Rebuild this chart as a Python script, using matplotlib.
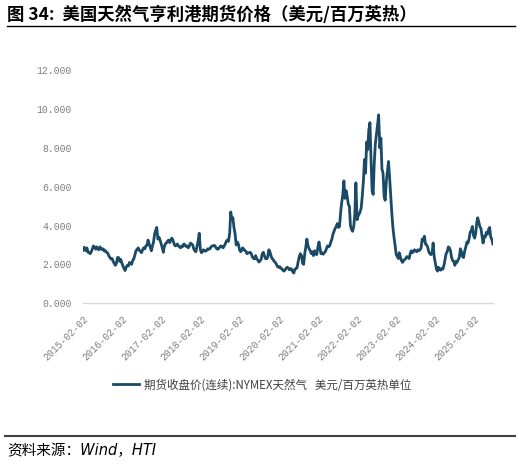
import matplotlib
matplotlib.use("Agg")
import matplotlib.pyplot as plt
import pandas as pd

plt.rcParams['font.family'] = ['Noto Sans CJK SC', 'DejaVu Sans']

# readings on the 1st, 11th and 21st of each month, USD/MMBtu
v2015 = [2.72, 2.88, 2.80, 2.70, 2.85, 2.62, 2.60, 2.55, 2.65, 2.80, 2.95, 2.88,
         2.78, 2.90, 2.80, 2.75, 2.90, 2.82, 2.75, 2.80, 2.68, 2.70, 2.62, 2.58,
         2.45, 2.35, 2.28, 2.30, 2.15, 2.05, 1.95, 2.05, 2.35]
v2016 = [2.35, 2.15, 2.25, 2.05, 1.90, 1.78, 1.68, 1.85, 1.95, 1.92, 2.10, 2.05,
         2.00, 2.20, 2.28, 2.50, 2.70, 2.78, 2.85, 2.72, 2.68, 2.60, 2.75, 2.85,
         2.80, 2.95, 2.98, 3.25, 3.05, 2.90, 2.70, 2.95, 3.15, 3.55, 3.75, 3.90]
v2017 = [3.30, 3.40, 3.25, 3.05, 2.85, 2.62, 2.90, 3.05, 3.10, 3.20, 3.25, 3.12,
         3.25, 3.35, 3.25, 3.05, 2.95, 2.98, 3.05, 2.95, 2.90, 2.85, 2.95, 2.92,
         3.05, 3.00, 2.92, 2.95, 2.85, 2.95, 3.10, 3.05, 3.00, 2.80, 2.70, 2.65]
v2018 = [2.95, 3.20, 3.60, 2.75, 2.60, 2.65, 2.75, 2.70, 2.68, 2.72, 2.80, 2.78,
         2.80, 2.90, 2.95, 2.95, 2.98, 2.92, 2.82, 2.78, 2.80, 2.90, 2.95, 2.92,
         2.85, 2.95, 3.05, 3.20, 3.25, 3.18, 3.60, 4.70, 4.35, 4.40, 3.90, 3.60]
v2019 = [3.00, 3.15, 3.05, 2.75, 2.65, 2.72, 2.85, 2.80, 2.72, 2.68, 2.55, 2.58,
         2.60, 2.62, 2.55, 2.38, 2.30, 2.28, 2.45, 2.30, 2.22, 2.12, 2.18, 2.25,
         2.55, 2.62, 2.45, 2.30, 2.28, 2.35, 2.75, 2.65, 2.45, 2.30, 2.25, 2.15]
v2020 = [2.10, 2.00, 1.88, 1.85, 1.88, 1.80, 1.78, 1.70, 1.65, 1.72, 1.80, 1.85,
         1.80, 1.72, 1.78, 1.75, 1.62, 1.55, 1.75, 1.78, 1.82, 2.15, 2.40, 2.55,
         2.45, 2.05, 2.00, 2.55, 2.90, 3.30, 2.95, 2.80, 2.70, 2.55, 2.65, 2.45]
v2021 = [2.70, 2.55, 2.50, 2.90, 3.15, 2.80, 2.55, 2.60, 2.52, 2.60, 2.65, 2.80,
         2.95, 2.90, 2.95, 3.15, 3.30, 3.55, 3.70, 3.85, 3.95, 4.10, 3.90, 3.95,
         4.70, 5.20, 5.60, 6.30, 5.40, 5.80, 5.50, 5.10, 5.00, 4.00, 3.80, 3.70]
v2022 = [3.95, 4.60, 6.20, 4.30, 4.50, 4.60, 4.70, 4.90, 5.50, 6.30, 7.40, 6.70,
         8.30, 7.90, 8.90, 9.30, 7.40, 5.80, 5.60, 7.20, 8.20, 8.70, 9.20, 9.70,
         8.00, 8.50, 6.90, 6.70, 5.50, 5.30, 6.30, 6.80, 7.30, 6.50, 5.60, 4.70]
v2023 = [3.90, 3.40, 3.00, 2.50, 2.40, 2.30, 2.60, 2.40, 2.20, 2.10, 2.20, 2.25,
         2.30, 2.40, 2.35, 2.30, 2.55, 2.70, 2.60, 2.65, 2.75, 2.70, 2.65, 2.75,
         2.70, 2.75, 2.85, 3.30, 3.20, 3.45, 3.05, 3.00, 2.90, 2.65, 2.55, 2.50]
v2024 = [2.55, 3.10, 2.40, 2.05, 1.75, 1.65, 1.85, 1.75, 1.70, 1.80, 1.75, 1.95,
         2.25, 2.55, 2.65, 2.90, 2.85, 2.70, 2.35, 2.20, 2.15, 1.95, 2.15, 2.10,
         2.25, 2.35, 2.80, 2.65, 2.40, 2.35, 2.70, 2.90, 3.15, 3.10, 3.30, 3.65]
v2025 = [3.75, 3.95, 3.50, 3.35, 3.60, 4.15, 4.40, 4.20, 3.95, 3.85, 3.45, 3.10,
         3.45, 3.40, 3.65, 3.55, 3.80, 3.90, 3.40, 3.30, 3.05]

prices = v2015 + v2016 + v2017 + v2018 + v2019 + v2020 + v2021 + v2022 + v2023 + v2024 + v2025
months = pd.date_range('2015-02-01', '2025-07-01', freq='MS')
dates = [m + pd.Timedelta(days=d) for m in months for d in (0, 10, 20)]

tick_labels = ['%d-02-02' % y for y in range(2015, 2026)]
yticks = [0, 2, 4, 6, 8, 10, 12]

title = '图 34:  美国天然气亨利港期货价格（美元/百万英热）'
legend_label = '期货收盘价(连续):NYMEX天然气   美元/百万英热单位'
source = '资料来源：Wind，HTI'

line_color = '#1a4a66'
grey = '#7f7f7f'

fig = plt.figure(figsize=(5.21, 4.65), dpi=100)
ax = fig.add_axes([0.159, 0.348, 0.787, 0.501])

ax.plot(dates, prices, color=line_color, lw=2.0, solid_joinstyle='round')

ax.set_ylim(0, 12)
ax.set_xlim(dates[0], dates[-1])
ax.set_yticks(yticks)
ax.set_yticklabels(['%.3f' % v for v in yticks], family='Liberation Mono',
                   fontsize=7, color=grey)
tick_pos = pd.to_datetime(tick_labels)
ax.set_xticks(tick_pos)
ax.set_xticklabels(tick_labels, rotation=45, ha='right', va='top',
                   rotation_mode='anchor', family='Liberation Mono',
                   fontsize=7, color=grey)
ax.tick_params(axis='both', length=0, pad=8)
for s in ['top', 'right', 'left']:
    ax.spines[s].set_visible(False)
ax.spines['bottom'].set_color('#d9d9d9')
ax.spines['bottom'].set_linewidth(1.0)

leg = fig.legend(handles=ax.get_lines(), labels=[legend_label],
                 loc='center', bbox_to_anchor=(0.503, 0.172), frameon=False,
                 fontsize=8.3, handlelength=2.3, handletextpad=0.4)
for t in leg.get_texts():
    t.set_color('#404040')

fig.text(0.014, 0.968, title, fontsize=12.5, fontweight='bold', va='center')
fig.add_artist(plt.Line2D([0.013, 0.989], [0.944, 0.944], color='black', lw=1.0))
fig.add_artist(plt.Line2D([0.010, 0.989], [0.062, 0.062], color='#404040', lw=1.5))
fig.text(0.014, 0.032, source, fontsize=10.5, va='center', style='italic',
         family=['DejaVu Sans', 'Noto Sans CJK SC'])

fig.savefig('out.png', dpi=100)
